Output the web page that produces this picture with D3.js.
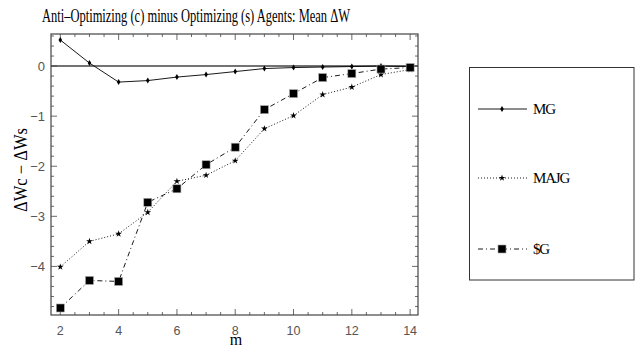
<!DOCTYPE html>
<html>
<head>
<meta charset="utf-8">
<script src="https://cdn.jsdelivr.net/npm/d3@7"></script>
<style>
  body { margin: 0; background: #fff; }
  svg { display: block; }
</style>
</head>
<body>
<div id="chart"></div>
<script>
  // values
  let mValues = [2, 3, 4, 5, 6, 7, 8, 9, 10, 11, 12, 13, 14];
  let mgValues = [0.52, 0.06, -0.32, -0.29, -0.22, -0.17, -0.11, -0.05, -0.03, -0.02, -0.01, 0, -0.01];
  let majgValues = [-4.01, -3.50, -3.35, -2.92, -2.30, -2.18, -1.89, -1.25, -0.99, -0.57, -0.42, -0.17, -0.07];
  let sgValues = [-4.83, -4.28, -4.30, -2.72, -2.45, -1.97, -1.62, -0.87, -0.55, -0.23, -0.15, -0.06, -0.03];
  let seriesNames = ["MG", "MAJG", "$G"];
  let xTicks = [2, 4, 6, 8, 10, 12, 14];
  let yTicks = [0, -1, -2, -3, -4];

  let width = 637, height = 352;
  let frame = {left: 51, right: 418, top: 34, bottom: 315};
  let serif = "Liberation Serif, Times New Roman, serif";
  let sans = "Liberation Sans, Arial, Helvetica, sans-serif";

  let svg = d3.select("#chart").append("svg")
    .attr("width", width)
    .attr("height", height);

  let x = d3.scaleLinear().domain([1.68, 14.27]).range([frame.left, frame.right]);
  let y = d3.scaleLinear().domain([-4.97, 0.64]).range([frame.bottom, frame.top]);

  let series = [
    {name: seriesNames[0], values: mgValues, dash: null, marker: "diamond"},
    {name: seriesNames[1], values: majgValues, dash: "1,2", marker: "star"},
    {name: seriesNames[2], values: sgValues, dash: "5,3,1,3", marker: "square"}
  ];

  // title
  svg.append("text")
    .attr("x", 42).attr("y", 21.5)
    .attr("font-family", serif)
    .attr("font-size", 19)
    .attr("textLength", 308)
    .attr("lengthAdjust", "spacingAndGlyphs")
    .text("Anti\u2013Optimizing (c) minus Optimizing (s) Agents: Mean \u0394W");

  // ticks inside the frame, on all four sides
  let xMinor = d3.range(2, 14.01, 0.5);
  let yMinor = d3.range(-4.8, 0.61, 0.2).map(v => Math.round(v * 10) / 10);
  let tickG = svg.append("g").attr("stroke", "#444").attr("stroke-width", 0.8);

  xMinor.forEach(function(v) {
    let len = (v % 2 === 0) ? 6 : 3;
    tickG.append("line").attr("x1", x(v)).attr("x2", x(v)).attr("y1", frame.bottom).attr("y2", frame.bottom - len);
    tickG.append("line").attr("x1", x(v)).attr("x2", x(v)).attr("y1", frame.top).attr("y2", frame.top + len);
  });
  yMinor.forEach(function(v) {
    let len = (Math.abs(v % 1) < 0.01) ? 6 : 3;
    tickG.append("line").attr("y1", y(v)).attr("y2", y(v)).attr("x1", frame.left).attr("x2", frame.left + len);
    tickG.append("line").attr("y1", y(v)).attr("y2", y(v)).attr("x1", frame.right).attr("x2", frame.right - len);
  });

  // zero line
  svg.append("line")
    .attr("x1", frame.left).attr("x2", frame.right)
    .attr("y1", y(0)).attr("y2", y(0))
    .attr("stroke", "#444").attr("stroke-width", 1.4);

  // frame
  svg.append("rect")
    .attr("x", frame.left).attr("y", frame.top)
    .attr("width", frame.right - frame.left).attr("height", frame.bottom - frame.top)
    .attr("fill", "none").attr("stroke", "#444").attr("stroke-width", 1.2);

  // tick labels
  svg.append("g").selectAll("text").data(xTicks).enter().append("text")
    .attr("x", d => x(d)).attr("y", 335)
    .attr("text-anchor", "middle")
    .attr("font-family", sans).attr("font-size", 12.5).attr("fill", "#555")
    .text(d => d);

  svg.append("g").selectAll("text").data(yTicks).enter().append("text")
    .attr("x", 45).attr("y", d => y(d) + 4.5)
    .attr("text-anchor", "end")
    .attr("font-family", sans).attr("font-size", 13).attr("fill", "#555")
    .text(d => d < 0 ? "\u2212" + Math.abs(d) : d);

  // axis labels
  svg.append("text")
    .attr("x", 236).attr("y", 345)
    .attr("text-anchor", "middle")
    .attr("font-family", serif).attr("font-size", 16)
    .text("m");

  svg.append("text")
    .attr("transform", "translate(27,170) rotate(-90)")
    .attr("text-anchor", "middle")
    .attr("font-family", serif).attr("font-size", 18)
    .attr("textLength", 84)
    .attr("lengthAdjust", "spacingAndGlyphs")
    .text("\u0394Wc \u2212 \u0394Ws");

  // markers
  function drawMarker(g, kind, cx, cy) {
    if (kind === "diamond") {
      g.append("path")
        .attr("d", `M${cx},${cy - 3}L${cx + 1.8},${cy}L${cx},${cy + 3}L${cx - 1.8},${cy}Z`)
        .attr("fill", "#000");
    } else if (kind === "star") {
      g.append("path")
        .attr("d", d3.symbol().type(d3.symbolStar).size(14)())
        .attr("transform", `translate(${cx},${cy})`)
        .attr("fill", "#000");
    } else {
      g.append("rect")
        .attr("x", cx - 4).attr("y", cy - 4)
        .attr("width", 8).attr("height", 8)
        .attr("fill", "#000").attr("stroke", "#aaa").attr("stroke-width", 0.6);
    }
  }

  let line = d3.line().x(d => x(d.m)).y(d => y(d.v));

  series.forEach(function(s) {
    let pts = mValues.map((m, i) => ({m: m, v: s.values[i]}));
    let g = svg.append("g");
    g.append("path")
      .attr("d", line(pts))
      .attr("fill", "none")
      .attr("stroke", "#000")
      .attr("stroke-width", 0.9)
      .attr("stroke-dasharray", s.dash);
    pts.forEach(p => drawMarker(g, s.marker, x(p.m), y(p.v)));
  });

  // legend
  let legend = svg.append("g");
  legend.append("rect")
    .attr("x", 469.5).attr("y", 67.5)
    .attr("width", 164.5).attr("height", 212.5)
    .attr("fill", "none").attr("stroke", "#333").attr("stroke-width", 1);

  let legendY = [109, 178, 249];
  series.forEach(function(s, i) {
    let ly = legendY[i];
    legend.append("line")
      .attr("x1", 478).attr("x2", 527)
      .attr("y1", ly).attr("y2", ly)
      .attr("stroke", "#000").attr("stroke-width", 0.9)
      .attr("stroke-dasharray", s.dash);
    drawMarker(legend, s.marker, 502, ly);
    legend.append("text")
      .attr("x", 533).attr("y", ly + 5)
      .attr("font-family", serif).attr("font-size", 15)
      .attr("letter-spacing", -1.2)
      .text(s.name);
  });
</script>
</body>
</html>
